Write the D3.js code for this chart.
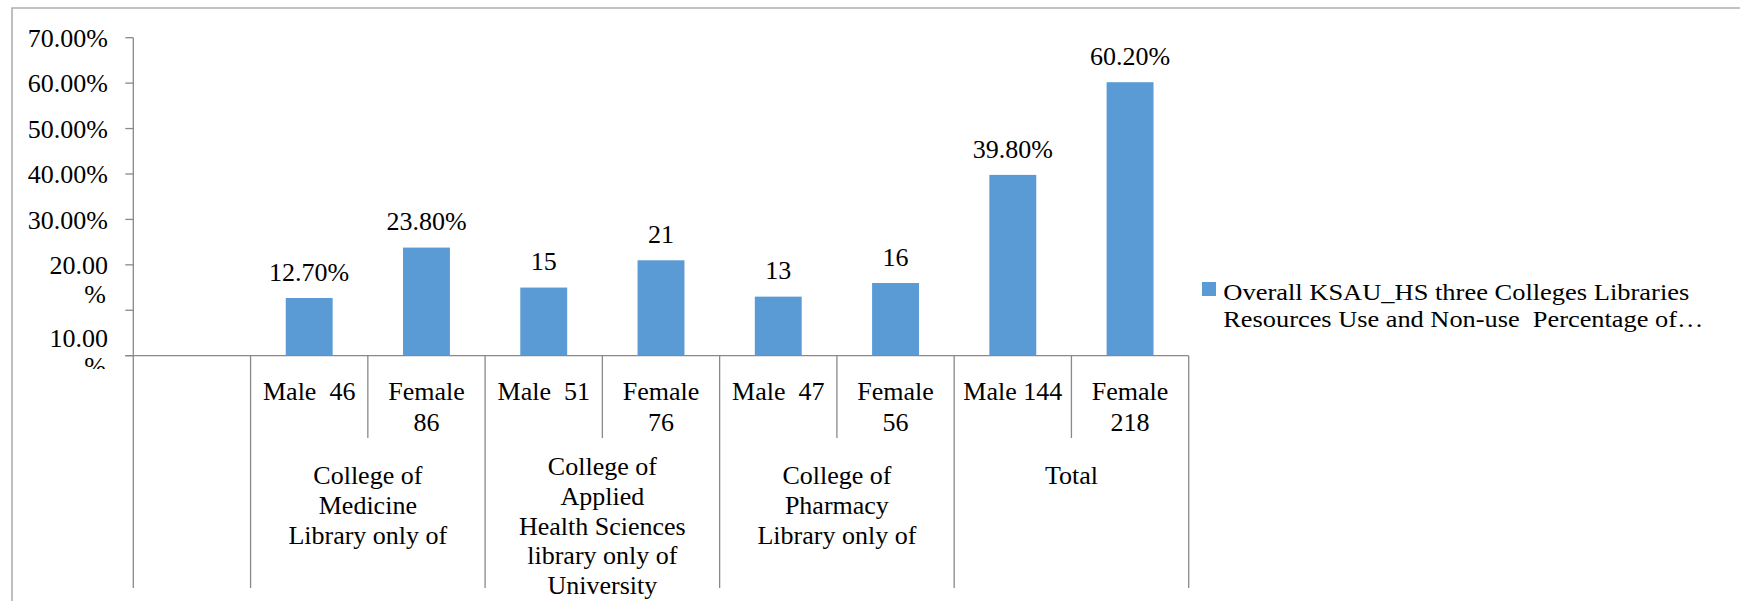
<!DOCTYPE html>
<html>
<head>
<meta charset="utf-8">
<script src="https://cdn.jsdelivr.net/npm/d3@7"></script>
<style>
  html, body { margin: 0; padding: 0; background: #fff; }
</style>
</head>
<body>
<div id="chart"></div>
<script>
// Chart data
const slotLabels = [
  [],
  ["Male  46"], ["Female", "86"],
  ["Male  51"], ["Female", "76"],
  ["Male  47"], ["Female", "56"],
  ["Male 144"], ["Female", "218"]
];
const values = [null, 0.127, 0.238, 0.15, 0.21, 0.13, 0.16, 0.398, 0.602];
const valueLabels = ["", "12.70%", "23.80%", "15", "21", "13", "16", "39.80%", "60.20%"];
const groupLabels = [
  ["College of", "Medicine", "Library only of"],
  ["College of", "Applied", "Health Sciences", "library only of", "University"],
  ["College of", "Pharmacy", "Library only of"],
  ["Total"]
];
const groupStart = [1, 3, 5, 7];
const tickValues = [0.1, 0.2, 0.3, 0.4, 0.5, 0.6, 0.7];
const tickLabels = [["10.00", "%"], ["20.00", "%"], ["30.00%"], ["40.00%"], ["50.00%"], ["60.00%"], ["70.00%"]];
const legendLines = [
  "Overall KSAU_HS three Colleges Libraries",
  "Resources Use and Non-use  Percentage of\u2026"
];

// Dimensions
const width = 1740;
const height = 601;
const left = 133.3, right = 1188.7, baseY = 355.7, topY = 37.7;
const barColor = "#5b9bd5";
const axisColor = "#898989";
const fontSize = 26;
const font = "Liberation Serif";

const svg = d3.select("#chart")
  .append("svg")
  .attr("width", width)
  .attr("height", height)
  .attr("font-family", font);

svg.append("rect")
  .attr("width", width)
  .attr("height", height)
  .attr("fill", "#fff");

// Chart frame (left and top edges only are visible)
svg.append("path")
  .attr("d", `M12,${height} L12,8 L${width},8`)
  .attr("fill", "none")
  .attr("stroke", "#b0b0b0")
  .attr("stroke-width", 1.6);

// Scales
const x = d3.scaleBand()
  .domain(d3.range(slotLabels.length))
  .range([left, right])
  .padding(0);

const y = d3.scaleLinear()
  .domain([0, 0.7])
  .range([baseY, topY]);

// Y axis: tick marks and line
svg.append("line")
  .attr("x1", left).attr("x2", left)
  .attr("y1", topY).attr("y2", baseY)
  .attr("stroke", axisColor).attr("stroke-width", 1.3);

svg.selectAll(".ytick")
  .data([0].concat(tickValues))
  .enter()
  .append("line")
  .attr("x1", left - 8)
  .attr("x2", left)
  .attr("y1", (d) => y(d))
  .attr("y2", (d) => y(d))
  .attr("stroke", axisColor)
  .attr("stroke-width", 1.3);

// Y tick labels (clipped at the bottom like the original)
svg.append("clipPath")
  .attr("id", "yclip")
  .append("rect")
  .attr("x", 0).attr("y", 0)
  .attr("width", left).attr("height", 369);

const labelShift = [27, 0, 0, 0, 0, 0, 0];
const yLabels = svg.append("g").attr("clip-path", "url(#yclip)");
tickValues.forEach((v, i) => {
  const t = yLabels.append("text")
    .attr("text-anchor", "end")
    .attr("font-family", font)
    .attr("font-size", fontSize)
    .attr("y", y(v) + 9.3 + labelShift[i]);
  tickLabels[i].forEach((line, j) => {
    t.append("tspan")
      .attr("x", j === 0 ? 108 : 106)
      .attr("dy", j === 0 ? 0 : 28.5)
      .text(line);
  });
});

// Bars
const barW = x.bandwidth() * 0.4;
const barData = values.map((v, i) => ({ i, v })).filter((d) => d.v !== null);

svg.selectAll(".bar")
  .data(barData)
  .enter()
  .append("rect")
  .attr("x", (d) => x(d.i) + (x.bandwidth() - barW) / 2)
  .attr("y", (d) => y(d.v))
  .attr("width", barW)
  .attr("height", (d) => baseY - y(d.v))
  .attr("fill", barColor);

// Data labels
svg.selectAll(".vlabel")
  .data(barData)
  .enter()
  .append("text")
  .attr("x", (d) => x(d.i) + x.bandwidth() / 2)
  .attr("y", (d) => y(d.v) - 17.3)
  .attr("text-anchor", "middle")
  .attr("font-family", font)
  .attr("font-size", fontSize)
  .text((d) => valueLabels[d.i]);

// Category axis baseline
svg.append("line")
  .attr("x1", left - 8).attr("x2", right)
  .attr("y1", baseY).attr("y2", baseY)
  .attr("stroke", axisColor).attr("stroke-width", 1.3);

// Category dividers: long at group edges, short between sub-categories
const boundaries = d3.range(slotLabels.length + 1);
const longEdges = new Set([0, 1].concat(groupStart, [slotLabels.length]));
svg.selectAll(".divider")
  .data(boundaries)
  .enter()
  .append("line")
  .attr("x1", (d) => (d < slotLabels.length ? x(d) : right))
  .attr("x2", (d) => (d < slotLabels.length ? x(d) : right))
  .attr("y1", baseY)
  .attr("y2", (d) => (longEdges.has(d) ? 588 : 438))
  .attr("stroke", axisColor)
  .attr("stroke-width", 1.3);

// Sub-category labels
slotLabels.forEach((lines, i) => {
  const t = svg.append("text")
    .attr("text-anchor", "middle")
    .attr("font-family", font)
    .attr("font-size", fontSize)
    .style("white-space", "pre")
    .attr("y", 400);
  lines.forEach((line, j) => {
    t.append("tspan")
      .attr("x", x(i) + x.bandwidth() / 2)
      .attr("dy", j === 0 ? 0 : 30.6)
      .text(line);
  });
});

// Group labels
const groupShift = [0, -9, 0, 0];
groupLabels.forEach((lines, g) => {
  const cx = x(groupStart[g]) + x.bandwidth();
  const t = svg.append("text")
    .attr("text-anchor", "middle")
    .attr("font-family", font)
    .attr("font-size", fontSize)
    .attr("y", 484 + groupShift[g]);
  lines.forEach((line, j) => {
    t.append("tspan")
      .attr("x", cx)
      .attr("dy", j === 0 ? 0 : 29.8)
      .text(line);
  });
});

// Legend
const legend = svg.append("g");
legend.append("rect")
  .attr("x", 1202).attr("y", 282)
  .attr("width", 14).attr("height", 14)
  .attr("fill", barColor);

const legendWidths = [466, 480];
legendLines.forEach((line, j) => {
  legend.append("text")
    .attr("x", 1223.3)
    .attr("y", 300 + j * 27)
    .attr("font-family", font)
    .attr("font-size", 23)
    .attr("textLength", legendWidths[j])
    .attr("lengthAdjust", "spacingAndGlyphs")
    .style("white-space", "pre")
    .text(line);
});
</script>
</body>
</html>
